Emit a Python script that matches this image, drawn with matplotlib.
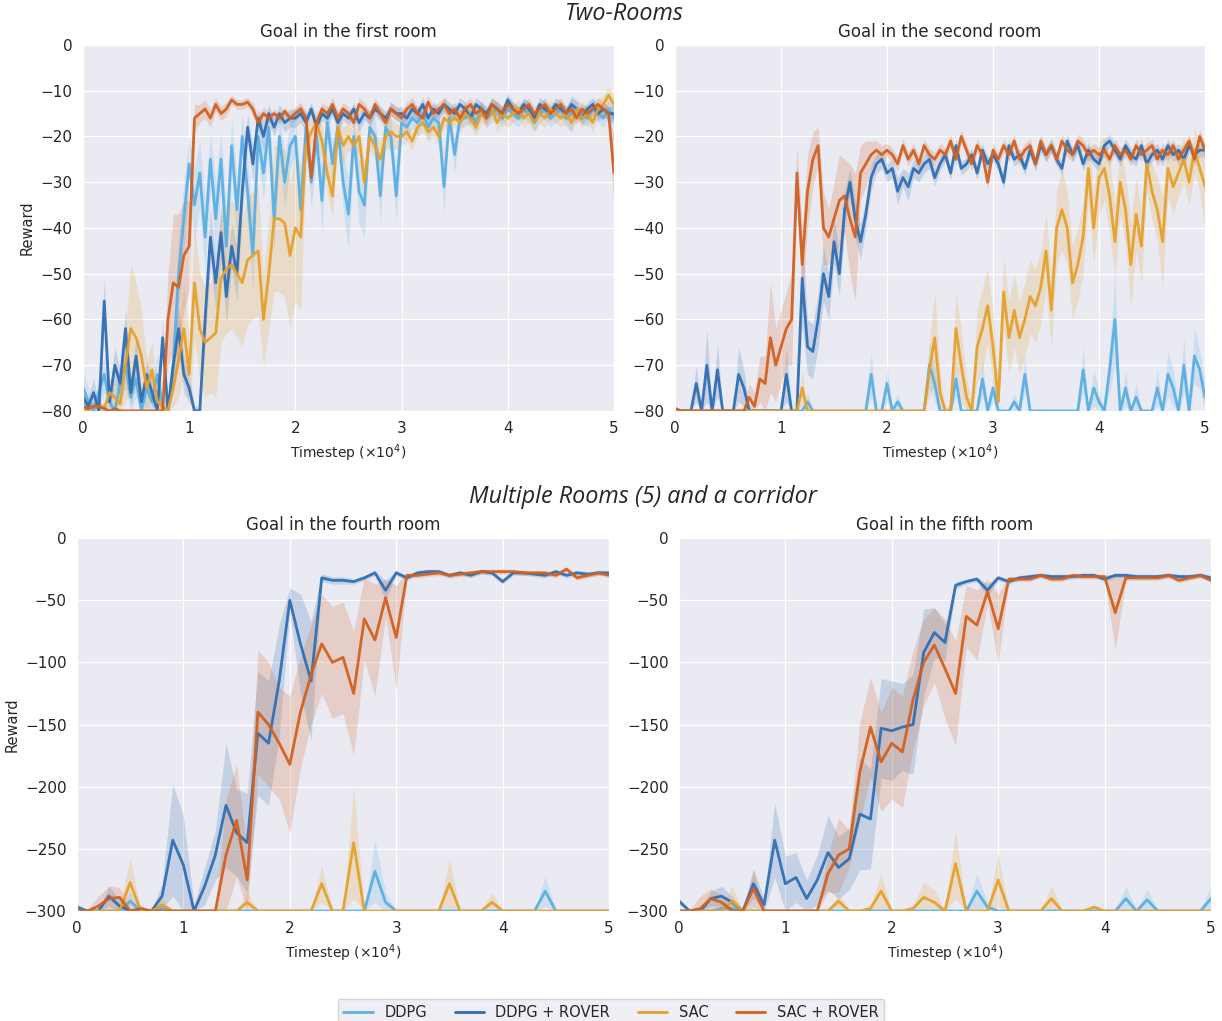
import numpy as np
import matplotlib.pyplot as plt
import seaborn as sns

# evaluation grids (x in units of 1e4 timesteps)
x_two = np.round(np.arange(0, 5.001, 0.05), 2)     # 101 points, Two-Rooms
x_multi = np.round(np.arange(0, 5.001, 0.1), 1)    # 51 points, Multiple Rooms

labels = ['DDPG', 'DDPG + ROVER', 'SAC', 'SAC + ROVER']
colors = ['#5aafe3', '#2f6eb3', '#e5a02c', '#d2601f']

# ---------------- Two-Rooms, goal in the first room ----------------
first_ddpg = [
    -75, -78, -80, -76, -72, -78, -80, -74, -70, -77,
    -73, -80, -75, -78, -72, -79, -80, -70, -50, -38,
    -26, -35, -28, -42, -25, -38, -25, -44, -22, -36,
    -20, -32, -46, -20, -28, -18, -38, -20, -30, -22,
    -20, -36, -18, -30, -20, -34, -17, -26, -18, -30,
    -37, -20, -32, -35, -18, -20, -33, -18, -20, -33,
    -17, -18, -16, -17, -15, -18, -16, -17, -31, -16,
    -24, -16, -16, -15, -17, -14, -16, -15, -14, -16,
    -14, -15, -16, -14, -15, -17, -15, -14, -16, -15,
    -14, -16, -15, -14, -15, -16, -14, -15, -16, -14,
    -16]
first_ddpg_sd = [
    4, 3, 2, 3, 4, 3, 5, 4, 5, 3,
    4, 2, 4, 3, 5, 3, 2, 5, 8, 8,
    6, 8, 7, 8, 6, 8, 6, 8, 6, 7,
    5, 7, 8, 5, 6, 4, 7, 5, 6, 5,
    4, 7, 4, 6, 4, 7, 4, 5, 4, 6,
    8, 4, 7, 7, 3, 4, 6, 3, 4, 6,
    3, 3, 2, 3, 2, 3, 2, 3, 6, 2,
    4, 2, 2, 2, 2, 2, 2, 2, 2, 2,
    2, 2, 2, 2, 2, 2, 2, 2, 2, 2,
    2, 2, 4, 2, 2, 2, 2, 2, 2, 2,
    2]
first_ddpg_rover = [
    -77, -79, -76, -80, -56, -78, -70, -74, -62, -76,
    -68, -78, -72, -76, -80, -64, -80, -70, -62, -72,
    -75, -80, -80, -60, -42, -52, -41, -55, -44, -50,
    -32, -18, -26, -16, -20, -15, -18, -15, -17, -16,
    -16, -15, -17, -14, -18, -15, -16, -14, -17, -15,
    -16, -14, -17, -15, -16, -14, -15, -16, -14, -15,
    -15, -16, -14, -15, -13, -16, -14, -15, -13, -14,
    -15, -13, -14, -16, -13, -14, -15, -13, -14, -15,
    -12, -14, -15, -13, -14, -16, -13, -14, -15, -13,
    -14, -15, -13, -14, -16, -14, -13, -15, -14, -15,
    -15]
first_ddpg_rover_sd = [
    3, 2, 3, 1, 5, 2, 4, 3, 4, 3,
    4, 2, 3, 3, 1, 4, 1, 4, 5, 4,
    3, 1, 1, 6, 6, 6, 6, 6, 5, 6,
    5, 3, 4, 2, 3, 2, 2, 2, 2, 2,
    2, 2, 2, 1.5, 2, 1.5, 1.5, 1.5, 2, 1.5,
    1.5, 1.5, 2, 1.5, 1.5, 1.5, 1.5, 1.5, 1.5, 1.5,
    1.5, 1.5, 1.5, 1.5, 1.5, 1.5, 1.5, 1.5, 1.5, 1.5,
    1.5, 1.5, 1.5, 1.5, 1.5, 1.5, 1.5, 1.5, 1.5, 1.5,
    1.5, 1.5, 1.5, 1.5, 1.5, 1.5, 1.5, 1.5, 1.5, 1.5,
    1.5, 1.5, 1.5, 1.5, 1.5, 1.5, 1.5, 1.5, 1.5, 1.5,
    2]
first_sac = [
    -80, -79.5, -79, -79, -79.5, -76, -77, -78.5, -70, -62,
    -64, -68, -75, -71, -78, -79, -80, -75, -69, -62,
    -72, -52, -62, -65, -64, -63, -51, -49, -48, -50,
    -52, -47, -46, -45, -60, -50, -38, -38, -39, -46,
    -40, -42, -22, -19, -17, -21, -28, -33, -18, -22,
    -20, -22, -20, -30, -20, -22, -25, -20, -19, -20,
    -20, -19, -21, -18, -17, -19, -18, -20, -16, -17,
    -16, -17, -15, -16, -18, -15, -16, -14, -17, -15,
    -16, -15, -14, -16, -15, -17, -15, -16, -14, -15,
    -16, -15, -17, -14, -16, -15, -17, -14, -13, -11,
    -13]
first_sac_sd = [
    0.5, 1, 1, 1, 1, 3, 3, 2, 8, 14,
    12, 10, 6, 6, 3, 2, 1, 4, 8, 10,
    8, 12, 12, 12, 12, 14, 14, 14, 14, 14,
    14, 14, 14, 14, 10, 12, 16, 16, 16, 16,
    16, 16, 4, 3, 3, 4, 4, 5, 3, 4,
    3, 3, 3, 4, 3, 3, 4, 3, 3, 3,
    2, 2, 2, 2, 2, 2, 2, 2, 2, 2,
    2, 2, 2, 2, 2, 2, 2, 2, 2, 2,
    2, 2, 2, 2, 2, 2, 2, 2, 2, 2,
    2, 2, 2, 2, 2, 2, 2, 2, 2, 2,
    2]
first_sac_rover = [
    -79, -79.5, -79, -79, -79.5, -80, -79.5, -80, -80, -80,
    -80, -80, -80, -80, -80, -80, -60, -52, -53, -46,
    -44, -16, -15, -14, -16, -13, -15, -14, -12, -13,
    -13, -12.5, -14, -17, -15, -16, -15, -16, -14.5, -16,
    -15, -14, -16, -29, -17, -14, -15, -13, -16, -14,
    -15, -17, -13, -14, -16, -13, -15, -17, -14, -15,
    -16, -14, -13, -15, -16, -12.5, -15, -14, -13, -15,
    -14, -16, -14, -13, -15, -14, -16, -13, -14, -15,
    -13, -14, -15, -14, -13, -15, -14, -13, -15, -14,
    -13, -15, -14, -16, -14, -15, -14, -13, -14, -15,
    -28]
first_sac_rover_sd = [
    1, 1, 1, 1, 1, 0.5, 0.5, 0.5, 0.5, 0.5,
    0.5, 0.5, 0.5, 0.5, 0.5, 2, 10, 15, 16, 12,
    10, 3, 2, 2, 2, 1.5, 1.5, 1.5, 1, 1,
    1, 1, 1.5, 1.5, 1.5, 1, 1, 1, 1, 1,
    1.5, 1.5, 1.5, 2, 1.5, 1.5, 1.5, 1.5, 1.5, 1.5,
    1.5, 1.5, 1.5, 1.5, 1.5, 1.5, 1.5, 1.5, 1.5, 1.5,
    1.5, 1.5, 1.5, 1.5, 1.5, 1.5, 1.5, 1.5, 1.5, 1.5,
    1.5, 1.5, 1.5, 1.5, 1.5, 1.5, 1.5, 1.5, 1.5, 1.5,
    1.5, 1.5, 1.5, 1.5, 1.5, 1.5, 1.5, 1.5, 1.5, 1.5,
    1.5, 1.5, 1.5, 1.5, 1.5, 1.5, 1.5, 1.5, 1.5, 1.5,
    8]

# ---------------- Two-Rooms, goal in the second room ----------------
second_ddpg = [
    -80, -80, -80, -80, -80, -80, -80, -80, -80, -80,
    -80, -80, -80, -80, -80, -80, -80, -80, -80, -80,
    -80, -80, -80, -80, -80, -78, -80, -80, -80, -80,
    -80, -80, -80, -80, -80, -80, -80, -72, -80, -80,
    -74, -80, -78, -80, -80, -80, -80, -80, -70, -74,
    -80, -80, -80, -73, -80, -80, -80, -80, -73, -80,
    -75, -80, -80, -80, -78, -80, -72, -80, -80, -80,
    -80, -80, -80, -80, -80, -80, -80, -71, -80, -75,
    -78, -80, -71, -60, -80, -75, -80, -77, -80, -80,
    -80, -75, -80, -72, -75, -80, -70, -80, -68, -71,
    -77]
second_ddpg_sd = [
    0.3, 0.3, 0.3, 0.3, 0.3, 0.3, 0.3, 0.3, 0.3, 0.3,
    0.3, 0.3, 0.3, 0.3, 0.3, 0.3, 0.3, 0.3, 0.3, 0.3,
    0.3, 0.3, 0.3, 0.3, 0.3, 2, 0.3, 0.3, 0.3, 0.3,
    0.3, 0.3, 0.3, 0.3, 0.3, 0.3, 0.3, 5, 0.3, 0.3,
    4, 0.3, 2, 0.3, 0.3, 0.3, 0.3, 0.3, 5, 4,
    0.3, 0.3, 0.3, 4, 0.3, 0.3, 0.3, 0.3, 4, 0.3,
    3, 0.3, 0.3, 0.3, 2, 0.3, 4, 0.3, 0.3, 0.3,
    0.3, 0.3, 0.3, 0.3, 0.3, 0.3, 0.3, 5, 0.3, 4,
    2, 0.3, 5, 10, 0.3, 4, 0.3, 3, 0.3, 0.3,
    0.3, 4, 0.3, 5, 4, 0.3, 6, 0.3, 6, 4,
    4]
second_ddpg_rover = [
    -79.5, -80, -80, -80, -74, -80, -70, -80, -71, -80,
    -80, -80, -72, -75, -80, -80, -80, -80, -80, -80,
    -80, -72, -80, -80, -51, -66, -67, -60, -50, -55,
    -43, -50, -36, -30, -38, -43, -37, -29, -26, -25,
    -28, -27, -32, -29, -31, -27, -28, -26, -25, -29,
    -26, -24, -28, -22, -27, -26, -24, -28, -23, -26,
    -24, -26, -30, -22, -25, -24, -27, -23, -26, -22,
    -24, -22, -25, -27, -21, -24, -22, -26, -23, -25,
    -26, -22, -21, -23, -25, -22, -24, -25, -22, -26,
    -24, -23, -25, -22, -24, -23, -25, -22, -24, -23,
    -23]
second_ddpg_rover_sd = [
    0.5, 0.5, 0.5, 0.5, 4, 0.5, 8, 0.5, 6, 0.5,
    0.5, 0.5, 6, 4, 0.5, 0.5, 0.5, 0.5, 0.5, 0.5,
    0.5, 6, 0.5, 0.5, 10, 6, 6, 6, 6, 5,
    5, 5, 4, 3, 4, 4, 3, 3, 2, 2,
    2, 2, 3, 2, 3, 2, 2, 2, 2, 2,
    1.5, 1.5, 1.5, 1.5, 1.5, 1.5, 1.5, 1.5, 1.5, 1.5,
    1.5, 1.5, 1.5, 1.5, 1.5, 1.5, 1.5, 1.5, 1.5, 1.5,
    1.5, 1.5, 1.5, 1.5, 1.5, 1.5, 1.5, 1.5, 1.5, 1.5,
    1.5, 1.5, 1.5, 1.5, 1.5, 1.5, 1.5, 1.5, 1.5, 1.5,
    1.5, 1.5, 1.5, 1.5, 1.5, 1.5, 1.5, 1.5, 1.5, 1.5,
    1.5]
second_sac = [
    -80, -80, -80, -80, -80, -80, -80, -80, -80, -80,
    -80, -80, -80, -80, -80, -80, -80, -80, -80, -80,
    -80, -80, -80, -80, -75, -80, -80, -80, -80, -80,
    -80, -80, -80, -80, -80, -80, -80, -80, -80, -80,
    -80, -80, -80, -80, -80, -80, -80, -80, -71, -64,
    -76, -80, -80, -62, -70, -77, -80, -66, -62, -57,
    -66, -78, -54, -64, -58, -64, -60, -55, -57, -53,
    -45, -58, -40, -36, -40, -52, -48, -42, -27, -40,
    -29, -27, -33, -43, -30, -36, -48, -37, -44, -26,
    -32, -36, -43, -27, -31, -28, -25, -30, -23, -27,
    -31]
second_sac_sd = [
    0.3, 0.3, 0.3, 0.3, 0.3, 0.3, 0.3, 0.3, 0.3, 0.3,
    0.3, 0.3, 0.3, 0.3, 0.3, 0.3, 0.3, 0.3, 0.3, 0.3,
    0.3, 0.3, 0.3, 0.3, 4, 0.3, 0.3, 0.3, 0.3, 0.3,
    0.3, 0.3, 0.3, 0.3, 0.3, 0.3, 0.3, 0.3, 0.3, 0.3,
    0.3, 0.3, 0.3, 0.3, 0.3, 0.3, 0.3, 0.3, 6, 10,
    5, 0.3, 2, 8, 8, 4, 2, 8, 9, 8,
    8, 4, 8, 8, 8, 8, 8, 8, 8, 8,
    8, 8, 8, 9, 8, 8, 8, 8, 7, 8,
    8, 7, 8, 8, 7, 8, 9, 8, 8, 6,
    6, 7, 10, 6, 6, 5, 5, 5, 5, 5,
    10]
second_sac_rover = [
    -79.5, -80, -80, -80, -80, -80, -80, -80, -80, -80,
    -80, -80, -80, -80, -77, -79, -73, -74, -64, -70,
    -66, -62, -60, -28, -48, -32, -25, -22, -40, -42,
    -38, -34, -33, -38, -42, -28, -26, -24, -23, -24,
    -23, -24, -26, -22, -25, -23, -26, -22, -24, -25,
    -23, -24, -21, -25, -20, -23, -26, -22, -24, -30,
    -23, -25, -22, -24, -21, -25, -23, -22, -26, -21,
    -24, -22, -25, -21, -23, -24, -21, -22, -24, -23,
    -24, -23, -25, -22, -24, -23, -25, -22, -24, -23,
    -22, -25, -23, -24, -22, -25, -23, -21, -25, -20,
    -23]
second_sac_rover_sd = [
    0.5, 0.5, 0.5, 0.5, 0.5, 0.5, 0.5, 0.5, 0.5, 0.5,
    0.5, 0.5, 0.5, 0.5, 3, 3, 5, 6, 12, 8,
    8, 8, 10, 6, 8, 8, 6, 4, 8, 6,
    8, 10, 8, 12, 14, 6, 5, 3, 2, 2,
    1.5, 1.5, 1.5, 1.5, 1.5, 1.5, 1.5, 1.5, 1.5, 1.5,
    1.5, 1.5, 1.5, 1.5, 1.5, 1.5, 1.5, 1.5, 1.5, 1.5,
    1.5, 1.5, 1.5, 1.5, 1.5, 1.5, 1.5, 1.5, 1.5, 1.5,
    1.5, 1.5, 1.5, 1.5, 1.5, 1.5, 1.5, 1.5, 1.5, 1.5,
    1.5, 1.5, 1.5, 1.5, 1.5, 1.5, 1.5, 1.5, 1.5, 1.5,
    1.5, 1.5, 1.5, 1.5, 1.5, 1.5, 1.5, 1.5, 1.5, 1.5,
    1.5]

# ---------------- Multiple rooms, goal in the fourth room ----------------
fourth_ddpg = [
    -300, -300, -300, -300, -300, -292, -300, -300, -298, -300,
    -300, -300, -300, -300, -300, -300, -300, -300, -300, -300,
    -300, -300, -300, -300, -300, -300, -300, -300, -268, -293,
    -300, -300, -300, -300, -300, -300, -300, -300, -300, -300,
    -300, -300, -300, -300, -284, -300, -300, -300, -300, -300,
    -300]
fourth_ddpg_sd = [
    0.5, 0.5, 0.5, 0.5, 3, 8, 0.5, 0.5, 3, 0.5,
    0.5, 0.5, 0.5, 0.5, 0.5, 0.5, 0.5, 0.5, 0.5, 0.5,
    0.5, 0.5, 0.5, 0.5, 0.5, 0.5, 0.5, 0.5, 25, 8,
    0.5, 0.5, 0.5, 0.5, 0.5, 0.5, 0.5, 0.5, 0.5, 0.5,
    0.5, 0.5, 0.5, 0.5, 12, 0.5, 0.5, 0.5, 0.5, 0.5,
    0.5]
fourth_ddpg_rover = [
    -297, -300, -300, -288, -296, -300, -300, -300, -288, -243,
    -263, -300, -280, -255, -215, -237, -245, -157, -165, -115,
    -50, -85, -115, -32, -34, -34, -35, -32, -28, -42,
    -28, -32, -28, -27, -27, -30, -28, -30, -27, -28,
    -35, -28, -28, -29, -30, -27, -30, -28, -29, -28,
    -28]
fourth_ddpg_rover_sd = [
    3, 1, 1, 8, 5, 1, 1, 1, 10, 45,
    40, 5, 15, 20, 50, 35, 40, 50, 50, 45,
    10, 40, 48, 3, 3, 3, 2, 2, 2, 8,
    2, 2, 2, 2, 2, 2, 2, 2, 2, 2,
    2, 2, 2, 2, 2, 2, 2, 2, 2, 2,
    2]
fourth_sac = [
    -300, -300, -300, -300, -300, -277, -300, -300, -295, -300,
    -300, -300, -300, -300, -300, -300, -293, -300, -300, -300,
    -300, -300, -300, -278, -300, -300, -245, -300, -300, -300,
    -300, -300, -300, -300, -300, -278, -300, -300, -300, -293,
    -300, -300, -300, -300, -300, -300, -300, -300, -300, -300,
    -300]
fourth_sac_sd = [
    0.5, 0.5, 0.5, 0.5, 3, 20, 0.5, 0.5, 5, 0.5,
    0.5, 0.5, 0.5, 0.5, 0.5, 0.5, 8, 0.5, 0.5, 0.5,
    0.5, 0.5, 0.5, 15, 0.5, 0.5, 45, 0.5, 0.5, 0.5,
    0.5, 0.5, 0.5, 0.5, 0.5, 20, 0.5, 0.5, 0.5, 8,
    0.5, 0.5, 0.5, 0.5, 0.5, 0.5, 0.5, 0.5, 0.5, 0.5,
    0.5]
fourth_sac_rover = [
    -300, -300, -296, -290, -289, -300, -298, -300, -300, -300,
    -300, -300, -300, -300, -255, -227, -275, -140, -150, -165,
    -182, -140, -110, -85, -100, -96, -125, -65, -82, -48,
    -80, -30, -30, -29, -28, -30, -29, -28, -27, -27,
    -27, -27, -28, -28, -28, -30, -25, -32, -30, -28,
    -30]
fourth_sac_rover_sd = [
    1, 1, 8, 10, 8, 2, 2, 1, 1, 1,
    1, 1, 1, 1, 45, 45, 25, 50, 50, 45,
    55, 45, 40, 40, 45, 45, 50, 33, 45, 15,
    42, 2, 2, 2, 2, 2, 2, 2, 2, 2,
    2, 2, 2, 2, 2, 2, 2, 2, 2, 2,
    2]

# ---------------- Multiple rooms, goal in the fifth room ----------------
fifth_ddpg = [
    -300, -300, -300, -300, -298, -298, -300, -300, -300, -300,
    -300, -300, -300, -300, -300, -300, -300, -300, -300, -300,
    -300, -300, -300, -300, -300, -300, -300, -300, -284, -297,
    -300, -300, -300, -300, -300, -300, -300, -300, -300, -300,
    -300, -300, -290, -300, -291, -300, -300, -300, -300, -300,
    -290]
fifth_ddpg_sd = [
    0.5, 0.5, 0.5, 0.5, 3, 3, 0.5, 0.5, 0.5, 0.5,
    0.5, 0.5, 0.5, 0.5, 0.5, 0.5, 0.5, 0.5, 0.5, 0.5,
    0.5, 0.5, 0.5, 0.5, 0.5, 0.5, 0.5, 0.5, 14, 4,
    0.5, 0.5, 0.5, 0.5, 0.5, 0.5, 0.5, 0.5, 0.5, 0.5,
    0.5, 0.5, 10, 0.5, 9, 0.5, 0.5, 0.5, 0.5, 0.5,
    10]
fifth_ddpg_rover = [
    -292, -300, -300, -290, -288, -293, -300, -278, -295, -243,
    -278, -273, -290, -275, -253, -265, -258, -222, -226, -153,
    -155, -152, -150, -92, -76, -84, -38, -35, -33, -42,
    -32, -35, -32, -31, -30, -31, -31, -31, -30, -30,
    -33, -30, -30, -31, -31, -31, -30, -31, -31, -30,
    -32]
fifth_ddpg_rover_sd = [
    3, 1, 1, 6, 8, 5, 1, 12, 5, 30,
    22, 20, 15, 20, 30, 25, 25, 45, 40, 40,
    40, 35, 40, 35, 20, 15, 3, 2, 2, 5,
    2, 2, 2, 2, 2, 2, 2, 2, 2, 2,
    2, 2, 2, 2, 2, 2, 2, 2, 2, 2,
    2]
fifth_sac = [
    -300, -300, -300, -300, -300, -292, -300, -300, -300, -300,
    -300, -300, -300, -300, -300, -292, -300, -300, -298, -284,
    -300, -300, -298, -289, -293, -300, -262, -300, -300, -300,
    -275, -300, -300, -300, -300, -290, -300, -300, -300, -297,
    -300, -300, -300, -300, -300, -300, -300, -300, -300, -300,
    -300]
fifth_sac_sd = [
    0.5, 0.5, 0.5, 0.5, 3, 12, 0.5, 0.5, 0.5, 0.5,
    0.5, 0.5, 0.5, 0.5, 0.5, 6, 0.5, 0.5, 3, 14,
    0.5, 0.5, 3, 12, 10, 0.5, 28, 0.5, 0.5, 0.5,
    22, 0.5, 0.5, 0.5, 0.5, 10, 0.5, 0.5, 0.5, 3,
    0.5, 0.5, 0.5, 0.5, 0.5, 0.5, 0.5, 0.5, 0.5, 0.5,
    0.5]
fifth_sac_rover = [
    -300, -300, -298, -290, -293, -300, -300, -282, -300, -300,
    -300, -300, -300, -300, -270, -255, -250, -188, -152, -180,
    -165, -172, -130, -100, -86, -105, -125, -63, -70, -43,
    -73, -33, -33, -33, -30, -33, -33, -30, -31, -31,
    -31, -60, -32, -32, -32, -32, -30, -34, -32, -30,
    -34]
fifth_sac_rover_sd = [
    1, 1, 10, 8, 6, 2, 2, 15, 2, 1,
    1, 1, 1, 1, 15, 30, 15, 40, 40, 40,
    45, 45, 40, 35, 30, 40, 42, 25, 28, 10,
    28, 2, 2, 2, 2, 2, 2, 2, 2, 2,
    2, 30, 2, 2, 2, 2, 2, 2, 2, 2,
    2]

sns.set_style('darkgrid')
plt.rcParams['font.family'] = ['DejaVu Sans']
plt.rcParams['text.color'] = '.15'

fig = plt.figure(figsize=(12.22, 10.21), dpi=100)

panels = [
    ([0.0679, 0.5975, 0.4345, 0.3585], 'Goal in the first room', x_two, (-80, 0), 10, True,
     [(first_ddpg, first_ddpg_sd), (first_ddpg_rover, first_ddpg_rover_sd),
      (first_sac, first_sac_sd), (first_sac_rover, first_sac_rover_sd)]),
    ([0.5524, 0.5975, 0.4337, 0.3585], 'Goal in the second room', x_two, (-80, 0), 10, False,
     [(second_ddpg, second_ddpg_sd), (second_ddpg_rover, second_ddpg_rover_sd),
      (second_sac, second_sac_sd), (second_sac_rover, second_sac_rover_sd)]),
    ([0.0630, 0.1077, 0.4354, 0.3653], 'Goal in the fourth room', x_multi, (-300, 0), 50, True,
     [(fourth_ddpg, fourth_ddpg_sd), (fourth_ddpg_rover, fourth_ddpg_rover_sd),
      (fourth_sac, fourth_sac_sd), (fourth_sac_rover, fourth_sac_rover_sd)]),
    ([0.5556, 0.1077, 0.4354, 0.3653], 'Goal in the fifth room', x_multi, (-300, 0), 50, False,
     [(fifth_ddpg, fifth_ddpg_sd), (fifth_ddpg_rover, fifth_ddpg_rover_sd),
      (fifth_sac, fifth_sac_sd), (fifth_sac_rover, fifth_sac_rover_sd)]),
]

for rect, title, xs, ylim, ystep, show_ylabel, series in panels:
    ax = fig.add_axes(rect)
    for (mean, sd), lab, col in zip(series, labels, colors):
        mean = np.array(mean, dtype=float)
        sd = np.array(sd, dtype=float)
        ax.fill_between(xs, np.maximum(mean - sd, ylim[0]), np.minimum(mean + sd, ylim[1]),
                        color=col, alpha=0.2, linewidth=0)
        ax.plot(xs, mean, color=col, lw=2, label=lab, alpha=0.95)
    ax.set_xlim(0, 5)
    ax.set_ylim(*ylim)
    ax.set_yticks(np.arange(ylim[0], ylim[1] + 1, ystep))
    ax.set_xticks(range(6))
    ax.tick_params(labelsize=11, pad=4)
    ax.set_title(title, fontsize=12, pad=6)
    ax.set_xlabel(r'Timestep ($\times10^4$)', fontsize=10)
    if show_ylabel:
        ax.set_ylabel('Reward', fontsize=10.5)
    if title == 'Goal in the first room':
        handles, hl = ax.get_legend_handles_labels()

fig.text(0.5106, 0.9863, 'Two-Rooms', ha='center', va='center', fontsize=16.8,
         style='italic', family=['Open Sans', 'DejaVu Sans'])
fig.text(0.526, 0.5132, 'Multiple Rooms (5) and a corridor', ha='center', va='center',
         fontsize=16.8, style='italic', family=['Open Sans', 'DejaVu Sans'])

leg = fig.legend(handles, hl, loc='lower center', bbox_to_anchor=(0.5, -0.012), ncol=4,
                 fontsize=10.5, frameon=True, handlelength=2.0, columnspacing=1.9)
for line in leg.get_lines():
    line.set_alpha(1)
leg.get_frame().set_edgecolor('#cccccc')

fig.savefig('out.png', dpi=100)
